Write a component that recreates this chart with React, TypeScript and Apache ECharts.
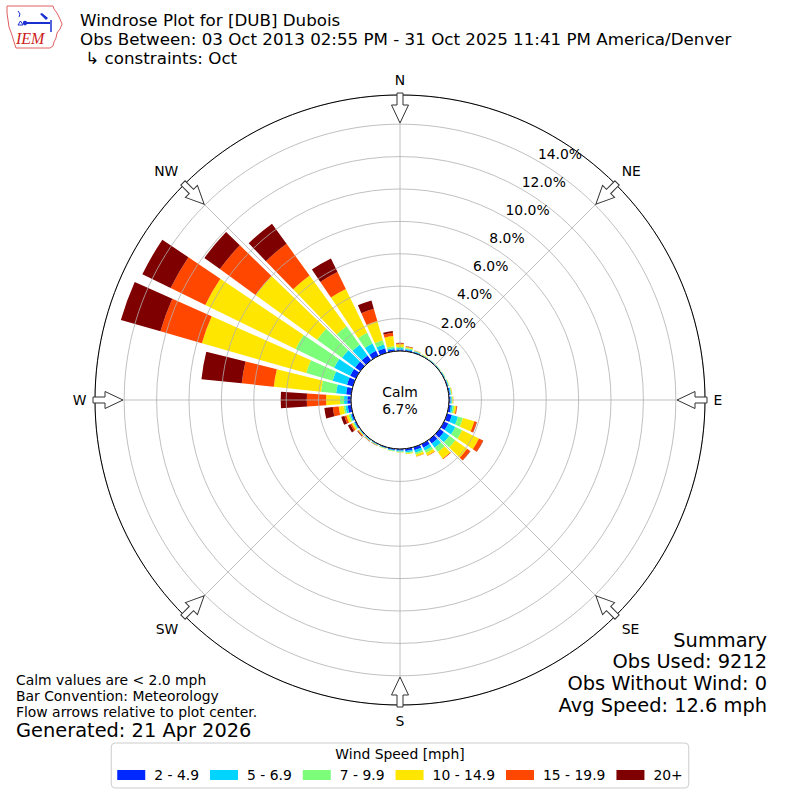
import React, { useEffect, useRef } from "react";
import * as echarts from "echarts";

const FONT = "DejaVu Sans";

// Direction bins (degrees, meteorological convention), centred on each value
const directions = ["0","10","20","30","40","50","60","70","80","90","100","110","120","130","140","150","160","170","180","190","200","210","220","230","240","250","260","270","280","290","300","310","320","330","340","350"];

const speedBins = ["2 - 4.9", "5 - 6.9", "7 - 9.9", "10 - 14.9", "15 - 19.9", "20+"];
const binColors = ["#0028ff", "#00d4ff", "#7cfe7a", "#ffe600", "#ff4700", "#7f0000"];

// Percent of observations per direction, one array per speed bin
const bin2to5 =   [0.10,0.08,0.06,0.04,0.04,0.04,0.05,0.06,0.08,0.10,0.14,0.31,0.30,0.33,0.30,0.25,0.20,0.14,0.10,0.08,0.06,0.05,0.05,0.05,0.08,0.10,0.22,0.23,0.32,0.38,0.40,0.40,0.38,0.35,0.30,0.13];
const bin5to7 =   [0.08,0.06,0.04,0.03,0.02,0.02,0.03,0.04,0.06,0.07,0.11,0.39,0.48,0.41,0.32,0.20,0.16,0.10,0.06,0.04,0.03,0.03,0.03,0.03,0.05,0.08,0.14,0.20,0.62,0.92,1.10,1.00,0.82,0.50,0.24,0.08];
const bin7to10 =  [0.07,0.06,0.03,0.02,0.02,0.02,0.02,0.03,0.04,0.05,0.10,0.32,0.47,0.46,0.33,0.17,0.12,0.06,0.04,0.03,0.02,0.02,0.02,0.03,0.07,0.10,0.12,0.25,0.94,1.70,2.65,1.90,1.40,0.75,0.27,0.10];
const bin10to15 = [0.17,0.07,0.03,0.02,0.01,0.01,0.01,0.02,0.03,0.04,0.12,0.73,1.15,0.90,0.50,0.18,0.12,0.04,0.02,0.02,0.02,0.02,0.03,0.05,0.10,0.14,0.30,0.86,2.93,6.70,6.20,4.70,3.87,3.00,1.24,0.63];
const bin15to20 = [0.06,0.03,0.01,0.00,0.00,0.00,0.00,0.00,0.01,0.01,0.05,0.15,0.28,0.23,0.05,0.02,0.02,0.01,0.00,0.00,0.01,0.01,0.02,0.04,0.10,0.13,0.37,1.19,1.99,2.66,2.38,2.72,2.42,1.17,0.79,0.21];
const bin20plus = [0.03,0.01,0.00,0.00,0.00,0.00,0.00,0.00,0.00,0.00,0.01,0.02,0.02,0.02,0.00,0.00,0.00,0.00,0.00,0.00,0.00,0.01,0.01,0.04,0.15,0.20,0.52,1.61,2.50,2.54,1.94,1.18,1.53,0.93,0.53,0.11];
const binValues = [bin2to5, bin5to7, bin7to10, bin10to15, bin15to20, bin20plus];

const radiusTickLabels = ["0.0%", "2.0%", "4.0%", "6.0%", "8.0%", "10.0%", "12.0%", "14.0%"];
const compassNames = ["N", "NE", "E", "SE", "S", "SW", "W", "NW"];
const compassAngles = [0, 45, 90, 135, 180, 225, 270, 315];

const calmPct = "6.7%";
const titleLines = [
  "Windrose Plot for [DUB] Dubois",
  "Obs Between: 03 Oct 2013 02:55 PM - 31 Oct 2025 11:41 PM America/Denver",
  " \u21b3 constraints: Oct",
];
const noteLines = ["Calm values are < 2.0 mph", "Bar Convention: Meteorology", "Flow arrows relative to plot center."];
const generatedText = "Generated: 21 Apr 2026";
const summaryLines = ["Summary", "Obs Used: 9212", "Obs Without Wind: 0", "Avg Speed: 12.6 mph"];
const legendTitle = "Wind Speed [mph]";

const CX = 400;
const CY = 400;
const R0 = 49;
const R_OUT = 305;
const PX_PER_PCT = 16.2;
const RMAX = (R_OUT - R0) / PX_PER_PCT;

function txt(text: string, x: number, y: number, size: number, align = "left", extra: any = {}) {
  return {
    type: "text",
    z: 50,
    silent: true,
    style: {
      text, x, y,
      fill: "#000",
      fontSize: size,
      fontFamily: FONT,
      lineHeight: Math.round(size * 1.05),
      align, textAlign: align,
      verticalAlign: "middle", textVerticalAlign: "middle",
      ...extra,
    },
  };
}

function buildOption() {
  const graphics: any[] = [];

  // logo
  graphics.push({
    type: "polygon", z: 50, silent: true,
    shape: { points: [[7,6],[53,6],[54,9],[57,13],[60,19],[62,24],[60,29],[57,33],[56,38],[54,42],[53,46],[50,48],[16,48],[14,42],[12,35],[9,27],[8,20],[7,13]] },
    style: { fill: "none", stroke: "#e06060", lineWidth: 1 },
  });
  graphics.push({ type: "line", z: 50, silent: true, shape: { x1: 25, y1: 23, x2: 50, y2: 23 }, style: { stroke: "#1a2fd0", lineWidth: 2 } });
  graphics.push({ type: "circle", z: 50, silent: true, shape: { cx: 25, cy: 23, r: 2.2 }, style: { fill: "#1a2fd0" } });
  graphics.push({ type: "polygon", z: 50, silent: true, shape: { points: [[40,14],[42,13],[48,18],[46,20]] }, style: { fill: "#1a2fd0" } });
  graphics.push({ type: "line", z: 50, silent: true, shape: { x1: 51, y1: 20, x2: 51, y2: 32 }, style: { stroke: "#1a2fd0", lineWidth: 1.5 } });
  graphics.push({ type: "polyline", z: 50, silent: true, shape: { points: [[18,11],[20,14],[19,17]] }, style: { stroke: "#1a2fd0", lineWidth: 1, fill: "none" } });
  graphics.push({ type: "polygon", z: 50, silent: true, shape: { points: [[18,25],[20.5,21],[23,25]] }, style: { fill: "none", stroke: "#1a2fd0", lineWidth: 1 } });
  graphics.push(txt("IEM", 16, 38, 16, "left", { fill: "#cc2020", fontFamily: "Liberation Serif", fontStyle: "italic" }));

  // title block as one multi-line text
  graphics.push({
    type: "text", z: 50, silent: true,
    style: {
      text: titleLines.join("\n"), x: 80, y: 10,
      fill: "#000", fontSize: 16.7, fontFamily: FONT, lineHeight: 19,
      align: "left", textAlign: "left", verticalAlign: "top", textVerticalAlign: "top",
    },
  });

  // outer circle and calm circle
  graphics.push({ type: "circle", z: 40, silent: true, shape: { cx: CX, cy: CY, r: R_OUT }, style: { fill: "none", stroke: "#000", lineWidth: 1 } });
  graphics.push({ type: "circle", z: 40, silent: true, shape: { cx: CX, cy: CY, r: R0 }, style: { fill: "#fff", stroke: "#000", lineWidth: 1 } });
  graphics.push({
    type: "text", z: 50, silent: true,
    style: { text: "Calm\n" + calmPct, x: CX, y: CY, fill: "#000", fontSize: 13.9, fontFamily: FONT, lineHeight: 17, align: "center", textAlign: "center", verticalAlign: "middle", textVerticalAlign: "middle" },
  });

  // flow arrows
  compassAngles.forEach((d) => {
    const rad = (d * Math.PI) / 180;
    graphics.push({
      type: "polygon", z: 45, silent: true,
      x: CX + R_OUT * Math.sin(rad),
      y: CY - R_OUT * Math.cos(rad),
      rotation: -rad,
      shape: { points: [[-3,-2],[3,-2],[3,10],[8.5,10],[0,28],[-8.5,10],[-3,10]] },
      style: { fill: "#fff", stroke: "#333", lineWidth: 1 },
    });
  });

  // notes
  graphics.push(txt(noteLines[0], 16, 680, 13.9));
  graphics.push(txt(noteLines[1], 16, 696, 13.9));
  graphics.push(txt(noteLines[2], 16, 712, 13.9));
  graphics.push(txt(generatedText, 16, 730, 19.4));

  // summary
  summaryLines.forEach((s, i) => graphics.push(txt(s, 767, 640 + i * 21.7, 19.4, "right")));

  // legend title
  graphics.push(txt(legendTitle, 400, 754, 13.9, "center"));

  const axisOff = { axisLine: { show: false }, axisTick: { show: false }, axisLabel: { show: false }, splitLine: { show: false } };
  const grid = { color: "#b0b0b0", width: 0.8 };

  return {
    animation: false,
    backgroundColor: "#fff",
    polar: [
      { center: [CX, CY], radius: [R0, R_OUT] },
      { center: [CX, CY], radius: [R0, R_OUT] },
      { center: [CX, CY], radius: [R0, R0 + 14 * PX_PER_PCT] },
    ],
    angleAxis: [
      { polarIndex: 0, type: "category", data: directions, startAngle: 95, clockwise: true, boundaryGap: true, ...axisOff, z: 1 },
      {
        polarIndex: 1, type: "value", min: 0, max: 360, interval: 45, startAngle: 90, clockwise: true,
        axisLine: { show: false }, axisTick: { show: false },
        axisLabel: { show: true, margin: 8.5, fontSize: 13.9, fontFamily: FONT, color: "#000", formatter: (v: number) => compassNames[Math.round(v / 45) % 8] },
        splitLine: { show: true, lineStyle: grid },
        z: 5,
      },
      { polarIndex: 2, type: "value", min: 0, max: 360, startAngle: 60, clockwise: true, ...axisOff },
    ],
    radiusAxis: [
      { polarIndex: 0, type: "value", min: 0, max: RMAX, interval: 2, axisLine: { show: false }, axisTick: { show: false }, axisLabel: { show: false }, splitLine: { show: true, lineStyle: grid }, z: 5 },
      { polarIndex: 1, type: "value", min: 0, max: RMAX, ...axisOff },
      {
        polarIndex: 2, type: "value", min: 0, max: 14, interval: 2,
        axisLine: { show: false }, axisTick: { show: false }, splitLine: { show: false },
        axisLabel: { show: true, margin: 0, align: "left", verticalAlign: "bottom", fontSize: 13.9, fontFamily: FONT, color: "#000", formatter: (v: number) => radiusTickLabels[Math.round(v / 2)] ?? "" },
        z: 6,
      },
    ],
    legend: {
      data: speedBins,
      top: 743,
      left: "center",
      orient: "horizontal",
      icon: "rect",
      itemWidth: 28,
      itemHeight: 10,
      itemGap: 11,
      selectedMode: false,
      padding: [25, 6, 6, 6],
      borderColor: "#cccccc",
      borderWidth: 1,
      borderRadius: 4,
      backgroundColor: "#fff",
      textStyle: { fontSize: 13.9, fontFamily: FONT, color: "#000", padding: [0, 0, 0, 4] },
    },
    series: speedBins.map((name, i) => ({
      type: "bar",
      name,
      coordinateSystem: "polar",
      polarIndex: 0,
      stack: "wind",
      data: binValues[i],
      barCategoryGap: "20%",
      itemStyle: { color: binColors[i] },
      silent: true,
      z: 2,
    })),
    graphic: graphics,
  };
}

export default function App() {
  const ref = useRef<HTMLDivElement>(null);
  useEffect(() => {
    if (!ref.current) return;
    const chart = echarts.init(ref.current, null, { renderer: "svg" });
    chart.setOption(buildOption() as any);
    return () => chart.dispose();
  }, []);
  return <div ref={ref} style={{ position: "fixed", left: 0, top: 0, width: 800, height: 800, background: "#fff" }} />;
}
